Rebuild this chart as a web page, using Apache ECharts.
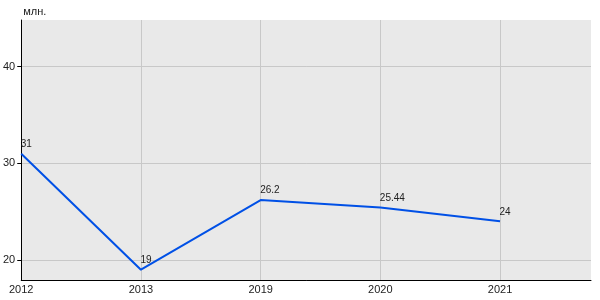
<!DOCTYPE html>
<html>
<head>
<meta charset="utf-8">
<script src="https://cdn.jsdelivr.net/npm/echarts@6/dist/echarts.min.js"></script>
<style>
  html, body { margin: 0; padding: 0; background: #fff; }
  #chart { width: 600px; height: 300px; }
</style>
</head>
<body>
<div id="chart"></div>
<script>
const years = ['2012', '2013', '2019', '2020', '2021']
const values = [31, 19, 26.2, 25.44, 24]
const yTicks = [20, 30, 40]
const unitLabel = 'млн.'

const chart = echarts.init(document.getElementById('chart'))
const font = 'Liberation Sans, Arial, sans-serif'

chart.setOption({
  animation: false,
  textStyle: { fontFamily: font },
  grid: {
    left: 20,
    right: 9,
    top: 20,
    bottom: 20,
    show: true,
    backgroundColor: '#e9e9e9',
    borderWidth: 0
  },
  xAxis: {
    type: 'value',
    min: 0,
    max: 4.76,
    axisLine: { show: true, lineStyle: { color: '#000', width: 1 } },
    axisTick: { show: false, customValues: [0, 1, 2, 3, 4] },
    axisLabel: {
      customValues: [0, 1, 2, 3, 4],
      formatter: (v) => years[Math.round(v)],
      color: '#222',
      fontSize: 11,
      margin: 4
    },
    splitLine: { show: true, lineStyle: { color: '#c8c8c8', width: 1 } }
  },
  yAxis: {
    type: 'value',
    min: 17.93,
    max: 44.83,
    name: unitLabel,
    nameLocation: 'end',
    nameGap: 3,
    nameTextStyle: { color: '#222', fontSize: 11, align: 'left', padding: [0, 0, 0, 2] },
    axisLine: { show: true, lineStyle: { color: '#000', width: 1 } },
    axisTick: { show: true, length: 4, lineStyle: { color: '#000' }, customValues: yTicks },
    axisLabel: { customValues: yTicks, color: '#222', fontSize: 11, margin: 6 },
    splitLine: { show: true, lineStyle: { color: '#c8c8c8', width: 1 } }
  },
  series: [
    {
      type: 'line',
      data: values.map((v, i) => [i, v]),
      symbol: 'circle',
      symbolSize: 1,
      itemStyle: { color: '#0050e6', opacity: 0 },
      lineStyle: { color: '#0050e6', width: 2 },
      label: {
        show: true,
        position: [0, -14],
        align: 'left',
        color: '#222',
        fontSize: 10,
        opacity: 1
      }
    }
  ]
})
</script>
</body>
</html>
